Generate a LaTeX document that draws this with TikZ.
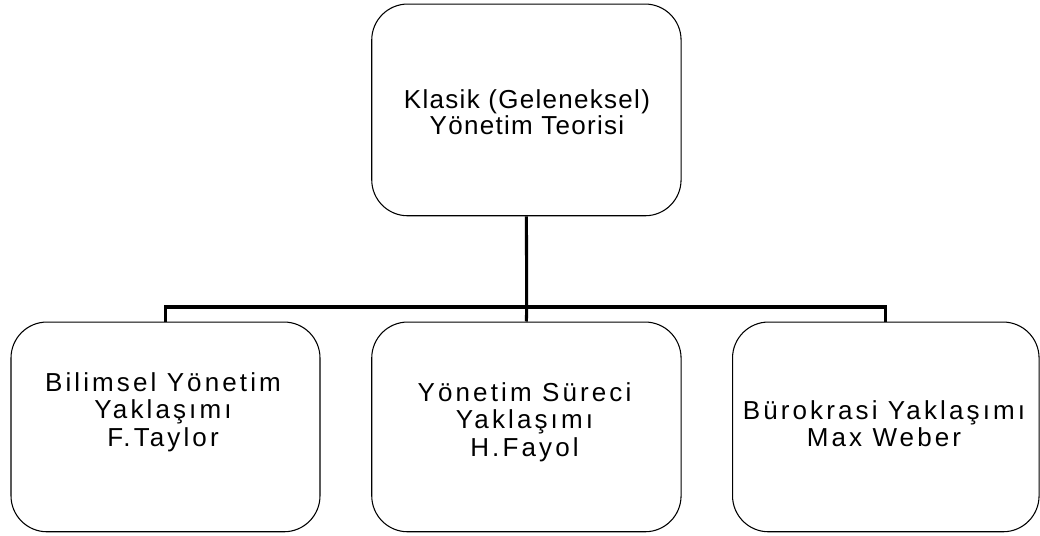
\documentclass[tikz,border=0pt]{standalone}
\usepackage{fontspec}
\setmainfont{Liberation Sans}
\begin{document}
\begin{tikzpicture}[x=0.75pt,y=-0.75pt,
  box/.style={draw,line width=0.8pt,rounded corners=27pt,inner sep=0pt},
  toptext/.style={align=center,inner sep=0pt,font=\fontsize{19.5pt}{19.5pt}\selectfont\addfontfeature{LetterSpace=5}},
  subtext/.style={align=center,inner sep=0pt,font=\fontsize{19.5pt}{20.5pt}\selectfont\addfontfeature{LetterSpace=12}},
  conn/.style={line width=2.3pt}]
\useasboundingbox (0,0) rectangle (1040,536);
% boxes
\node[box,minimum width=232pt,minimum height=158.8pt] (top) at (526.4,109.9) {};
\node[box,minimum width=231.75pt,minimum height=157.3pt] (b1) at (165.5,426.9) {};
\node[box,minimum width=232pt,minimum height=157.3pt] (b2) at (526.4,426.9) {};
\node[box,minimum width=229.9pt,minimum height=157.3pt] (b3) at (885.8,426.9) {};
% texts
\node[toptext] (ttop) at (527,112) {Klasik (Geleneksel)\\Yönetim Teorisi};
\node[subtext] (t1) at (163,412) {Bilimsel Yönetim\\Yaklaşımı\\F.Taylor};
\node[subtext] (t2) at (524.5,422) {Yönetim Süreci\\Yaklaşımı\\H.Fayol};
\node[subtext] (t3) at (884,424) {Bürokrasi Yaklaşımı\\Max Weber};
% connectors
\coordinate (j) at (526.7,307);
\draw[conn] (top.south) -- (j);
\draw[conn] (b1.north) |- (j) -| (b3.north);
\draw[conn] (j) -- (b2.north);
\end{tikzpicture}
\end{document}
